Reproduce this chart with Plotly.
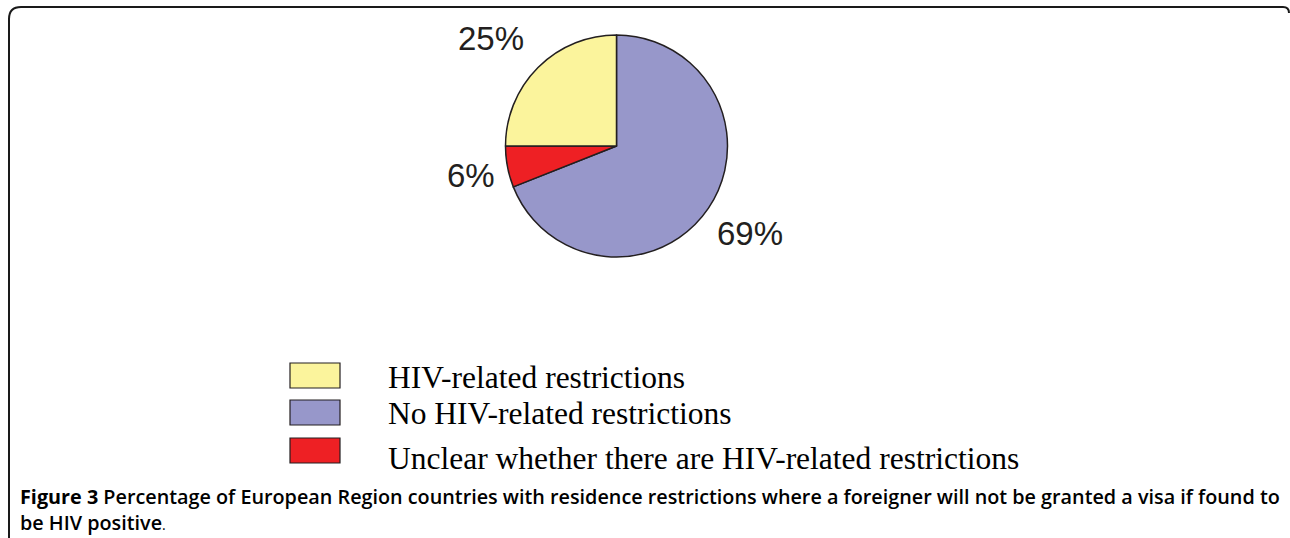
import plotly.graph_objects as go

W, H = 1290, 538

# Data
categories = ["No HIV-related restrictions", "Unclear whether there are HIV-related restrictions", "HIV-related restrictions"]
values = [69, 6, 25]
colors = ["#9797CA", "#EE2024", "#FBF49C"]
legend_order = ["HIV-related restrictions", "No HIV-related restrictions", "Unclear whether there are HIV-related restrictions"]

def px(x):
    return x / W

def py(y):
    return 1 - y / H

fig = go.Figure()
fig.add_trace(go.Pie(
    labels=categories,
    values=values,
    sort=False,
    direction="clockwise",
    rotation=0,
    marker=dict(colors=colors, line=dict(color="#231F20", width=1.5)),
    textinfo="none",
    hoverinfo="label+percent",
    showlegend=False,
    domain=dict(x=[px(505.5), px(727.5)], y=[py(257), py(35)]),
))

# Percentage labels
label_pos = {  # (x, y) centers in pixels
    "HIV-related restrictions": (491, 38),
    "Unclear whether there are HIV-related restrictions": (471, 176),
    "No HIV-related restrictions": (750, 233),
}
annotations = []
for cat, val in zip(categories, values):
    x, y = label_pos[cat]
    annotations.append(dict(
        x=px(x), y=py(y), xref="paper", yref="paper",
        text=f"{val}%", showarrow=False, xanchor="center", yanchor="middle",
        font=dict(family="Liberation Sans, Arial", size=33, color="#231F20"),
    ))

# Custom legend
shapes = []
box_y = [375.5, 412.5, 450.5]
text_y = [377, 413, 458]
color_of = dict(zip(categories, colors))
for name, by, ty in zip(legend_order, box_y, text_y):
    shapes.append(dict(
        type="rect", xref="paper", yref="paper",
        x0=px(290), x1=px(340), y0=py(by + 12.5), y1=py(by - 12.5),
        fillcolor=color_of[name], line=dict(color="#231F20", width=1.2),
    ))
    annotations.append(dict(
        x=px(386), y=py(ty), xref="paper", yref="paper",
        text=name, showarrow=False, xanchor="left", yanchor="middle",
        font=dict(family="Liberation Serif, Times New Roman", size=31.5, color="#000000"),
    ))

# Caption
caption1 = "<b>Figure 3</b> Percentage of European Region countries with residence restrictions where a foreigner will not be granted a visa if found to"
caption2 = "be HIV positive"
cap_font = dict(family="Open Sans", size=19.8, color="#000000", weight=600)
annotations.append(dict(
    x=px(18), y=py(496), xref="paper", yref="paper", text=caption1,
    showarrow=False, xanchor="left", yanchor="middle", font=cap_font,
))
annotations.append(dict(
    x=px(18), y=py(522), xref="paper", yref="paper",
    text=caption2 + "<span style='font-weight:normal;font-size:14px'>.</span>",
    showarrow=False, xanchor="left", yanchor="middle", font=cap_font,
))

# Frame with rounded corners
r = 12
frame = (
    f"M {px(9)},{py(560)} L {px(9)},{py(7 + r)} "
    f"Q {px(9)},{py(7)} {px(9 + r)},{py(7)} "
    f"L {px(1283)},{py(7)} Q {px(1289)},{py(7)} {px(1289)},{py(13)}"
)
shapes.append(dict(type="path", xref="paper", yref="paper", path=frame,
                   line=dict(color="#1a1a1a", width=2)))

fig.update_layout(
    width=W, height=H,
    margin=dict(l=0, r=0, t=0, b=0),
    paper_bgcolor="white", plot_bgcolor="white",
    annotations=annotations, shapes=shapes,
    showlegend=False,
)

fig.write_html("out.html", config={"displayModeBar": False},
               post_script="document.body.style.margin='0';")
